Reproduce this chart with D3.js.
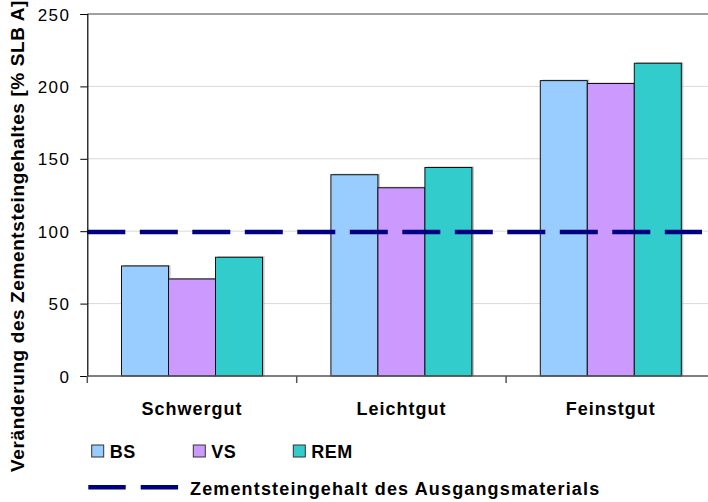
<!DOCTYPE html>
<html>
<head>
<meta charset="utf-8">
<script src="https://cdn.jsdelivr.net/npm/d3@7"></script>
<style>
  body { margin: 0; background: #fff; }
  svg { display: block; font-family: 'Liberation Sans', Arial, sans-serif; }
  .grid line { stroke: #d9d9d9; stroke-width: 1; }
</style>
</head>
<body>
<svg width="708" height="502"></svg>
<script>
const categories = ['Schwergut', 'Leichtgut', 'Feinstgut']
const seriesNames = ['BS', 'VS', 'REM']
const bsValues = [76, 139, 204]
const vsValues = [67, 130, 202]
const remValues = [82, 144, 216]
const refValue = 99.5
const refLabel = 'Zementsteingehalt des Ausgangsmaterials'
const yTicks = [0, 50, 100, 150, 200, 250]
const yLabel = 'Veränderung des Zementsteingehaltes [% SLB A]'

const colors = ['#99ccff', '#cc99ff', '#33cccc']

const svg = d3.select('svg')

const plotLeft = 87.3
const bandW = 209.4
const plotTop = 14
const plotBottom = 376

const xScale = d3.scaleBand()
  .domain(categories)
  .range([plotLeft, plotLeft + bandW * categories.length])
  .padding(0)

const xInner = d3.scaleBand()
  .domain(seriesNames)
  .range([34.2, 175.2])
  .padding(0)

const yScale = d3.scaleLinear()
  .domain([0, 250])
  .range([plotBottom, plotTop])

const data = categories.map((c, i) => ({
  name: c,
  values: [bsValues[i], vsValues[i], remValues[i]].map((v, j) => ({ key: seriesNames[j], value: v }))
}))

// gridlines
svg.append('g')
  .attr('class', 'grid')
  .selectAll('line')
  .data(yTicks.filter(t => t > 0 && t < 250))
  .enter()
  .append('line')
  .attr('x1', plotLeft)
  .attr('x2', 708)
  .attr('y1', d => yScale(d))
  .attr('y2', d => yScale(d))

svg.append('line')
  .attr('x1', plotLeft)
  .attr('x2', 708)
  .attr('y1', yScale(250))
  .attr('y2', yScale(250))
  .style('stroke', '#808080')
  .style('stroke-width', 1.5)

// bars
const group = svg.selectAll('.cat')
  .data(data)
  .enter()
  .append('g')
  .attr('class', 'cat')
  .attr('transform', d => `translate(${xScale(d.name)}, 0)`)

group.selectAll('rect.shadow')
  .data(d => d.values)
  .enter()
  .append('rect')
  .attr('class', 'shadow')
  .attr('x', d => xInner(d.key) + 2)
  .attr('y', d => yScale(d.value) - 1)
  .attr('width', xInner.bandwidth())
  .attr('height', d => plotBottom - yScale(d.value) + 1)
  .attr('fill', '#9a9a9a')
  .attr('opacity', 0.6)

group.selectAll('rect.bar')
  .data(d => d.values)
  .enter()
  .append('rect')
  .attr('class', 'bar')
  .attr('x', d => xInner(d.key))
  .attr('y', d => yScale(d.value))
  .attr('width', xInner.bandwidth())
  .attr('height', d => plotBottom - yScale(d.value))
  .attr('fill', (d, i) => colors[i])
  .attr('stroke', '#111')
  .attr('stroke-width', 1)

// reference line
const refLine = d3.line()
  .x(d => d[0])
  .y(d => yScale(d[1]))

svg.append('path')
  .datum([[plotLeft, refValue], [702, refValue]])
  .attr('d', refLine)
  .attr('fill', 'none')
  .attr('stroke', '#000080')
  .attr('stroke-width', 4.5)
  .attr('stroke-dasharray', '38,14.5')

// y axis
const yAxis = d3.axisLeft(yScale)
  .tickValues(yTicks)
  .tickSize(7)
  .tickPadding(10)

const yAxisG = svg.append('g')
  .attr('transform', `translate(${plotLeft}, 0)`)
  .call(yAxis)
yAxisG.select('.domain').attr('stroke', '#000').attr('stroke-width', 1.2)
yAxisG.selectAll('.tick line').attr('stroke', '#000')
yAxisG.selectAll('.tick text')
  .attr('font-family', 'Liberation Sans, Arial, sans-serif')
  .attr('font-size', 17)
  .attr('letter-spacing', 1.4)
  .attr('fill', '#000')
  .attr('x', -17)
  .attr('dy', '0.36em')

// x axis
const xAxisG = svg.append('g')
  .attr('transform', `translate(0, ${plotBottom})`)
xAxisG.append('line')
  .attr('x1', plotLeft)
  .attr('x2', 708)
  .attr('stroke', '#555')
  .attr('stroke-width', 1.5)
xAxisG.selectAll('.xtick')
  .data(categories)
  .enter()
  .append('line')
  .attr('x1', d => xScale(d))
  .attr('x2', d => xScale(d))
  .attr('y1', 0)
  .attr('y2', 7)
  .attr('stroke', '#555')
  .attr('stroke-width', 1.5)

svg.selectAll('.cat-label')
  .data(categories)
  .enter()
  .append('text')
  .attr('class', 'cat-label')
  .attr('x', d => xScale(d) + xScale.bandwidth() / 2)
  .attr('y', 415)
  .attr('text-anchor', 'middle')
  .attr('font-size', 18)
  .attr('font-weight', 'bold')
  .attr('letter-spacing', 1)
  .text(d => d)

// y label
svg.append('text')
  .attr('transform', 'translate(24, 236) rotate(-90)')
  .attr('text-anchor', 'middle')
  .attr('font-size', 19)
  .attr('font-weight', 'bold')
  .attr('letter-spacing', 0.6)
  .text(yLabel)

// legend
const legendX = [91.7, 193.3, 293.3]
const legend = svg.selectAll('.legend')
  .data(seriesNames)
  .enter()
  .append('g')
  .attr('class', 'legend')
  .attr('transform', (d, i) => `translate(${legendX[i]}, 445)`)

legend.append('rect')
  .attr('width', 12)
  .attr('height', 12)
  .attr('fill', (d, i) => colors[i])
  .attr('stroke', '#333')
  .attr('stroke-width', 1)

legend.append('text')
  .attr('x', 18)
  .attr('y', 12.5)
  .attr('font-size', 18)
  .attr('font-weight', 'bold')
  .attr('letter-spacing', 0.5)
  .text(d => d)

svg.append('line')
  .attr('x1', 88.3)
  .attr('x2', 178.3)
  .attr('y1', 487.3)
  .attr('y2', 487.3)
  .attr('stroke', '#000080')
  .attr('stroke-width', 4.5)
  .attr('stroke-dasharray', '37.4,15')

svg.append('text')
  .attr('x', 190)
  .attr('y', 494.5)
  .attr('font-size', 18)
  .attr('font-weight', 'bold')
  .attr('letter-spacing', 1.15)
  .text(refLabel)
</script>
</body>
</html>
